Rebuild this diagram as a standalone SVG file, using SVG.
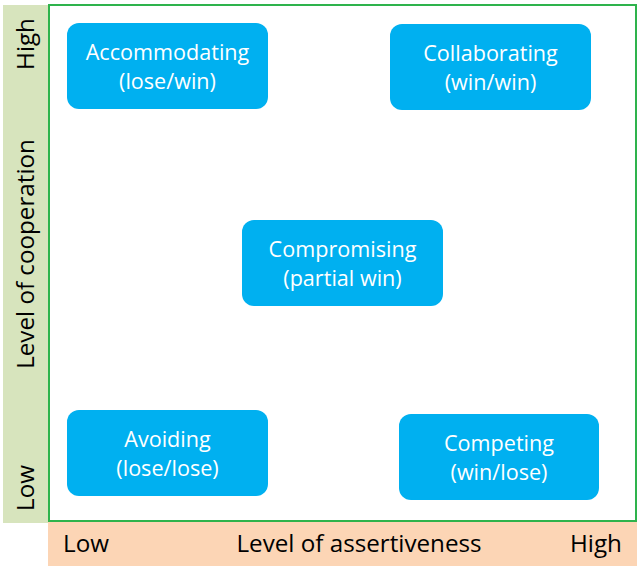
<svg xmlns="http://www.w3.org/2000/svg" width="640" height="577" viewBox="0 0 640 577">
<style>
.box{fill:#00b0f0;}
.bt{font-family:"Open Sans","Liberation Sans",Arial,sans-serif;font-size:21.6px;fill:#ffffff;text-anchor:middle;}
.ax{font-family:"Open Sans","Liberation Sans",Arial,sans-serif;font-size:24.2px;fill:#000000;text-anchor:middle;}
</style>
<rect width="640" height="577" fill="#ffffff"/>
<g id="y-axis">
<rect x="3" y="5" width="45" height="518" fill="#d7e4bd"/>
<text class="ax" transform="translate(34,44) rotate(-90)">High</text>
<text class="ax" transform="translate(34,254) rotate(-90)">Level of cooperation</text>
<text class="ax" transform="translate(34,488) rotate(-90)">Low</text>
</g>
<g id="x-axis">
<rect x="48" y="521" width="589" height="45" fill="#fcd5b5"/>
<text class="ax" x="86" y="552">Low</text>
<text class="ax" x="359" y="552">Level of assertiveness</text>
<text class="ax" x="596" y="552">High</text>
</g>
<g id="frame">
<rect x="49" y="5" width="587" height="516" fill="none" stroke="#2eb34c" stroke-width="2"/>
</g>
<g id="connectors"></g>
<g id="accommodating">
<rect class="box" x="67" y="23" width="201" height="86" rx="12"/>
<text class="bt" x="167.5" y="60">Accommodating</text>
<text class="bt" x="167.5" y="89">(lose/win)</text>
</g>
<g id="collaborating">
<rect class="box" x="390" y="24" width="201" height="86" rx="12"/>
<text class="bt" x="490.5" y="61">Collaborating</text>
<text class="bt" x="490.5" y="90">(win/win)</text>
</g>
<g id="compromising">
<rect class="box" x="242" y="220" width="201" height="86" rx="12"/>
<text class="bt" x="342.5" y="257">Compromising</text>
<text class="bt" x="342.5" y="286">(partial win)</text>
</g>
<g id="avoiding">
<rect class="box" x="67" y="410" width="201" height="86" rx="12"/>
<text class="bt" x="167.5" y="447">Avoiding</text>
<text class="bt" x="167.5" y="476">(lose/lose)</text>
</g>
<g id="competing">
<rect class="box" x="399" y="414" width="200" height="86" rx="12"/>
<text class="bt" x="499" y="451">Competing</text>
<text class="bt" x="499" y="480">(win/lose)</text>
</g>
</svg>
